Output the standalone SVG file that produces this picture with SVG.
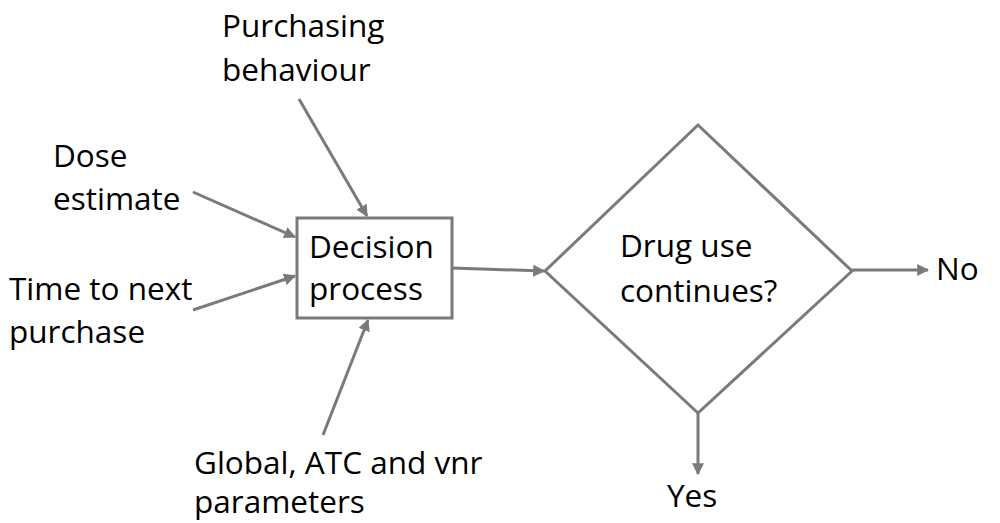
<svg xmlns="http://www.w3.org/2000/svg" width="1000" height="523" viewBox="0 0 1000 523">
<style>
text{font-family:"Open Sans","Liberation Sans",sans-serif;font-size:31.5px;fill:#000}
.ln{stroke:#7a7a7a;stroke-width:3;fill:none}
.sh{stroke:#7a7a7a;stroke-width:3;fill:#fff}
</style>
<defs>
<marker id="ah" viewBox="0 0 10 10" refX="9" refY="5" markerWidth="4" markerHeight="4" orient="auto" markerUnits="strokeWidth">
<path d="M0,0 L10,5 L0,10 z" fill="#7a7a7a"/>
</marker>
</defs>
<rect width="1000" height="523" fill="#fff"/>
<g id="connectors">
<line class="ln" x1="299" y1="99" x2="367" y2="216" marker-end="url(#ah)"/>
<line class="ln" x1="193" y1="192" x2="295" y2="237" marker-end="url(#ah)"/>
<line class="ln" x1="193" y1="310" x2="295" y2="276" marker-end="url(#ah)"/>
<line class="ln" x1="323" y1="435" x2="368" y2="320" marker-end="url(#ah)"/>
<line class="ln" x1="452" y1="268" x2="544" y2="271" marker-end="url(#ah)"/>
<line class="ln" x1="852" y1="270" x2="928" y2="270" marker-end="url(#ah)"/>
<line class="ln" x1="698" y1="413" x2="698" y2="474" marker-end="url(#ah)"/>
</g>
<g id="decision-process">
<rect class="sh" x="297" y="218" width="155" height="100"/>
<text x="309" y="258">Decision</text>
<text x="309" y="300">process</text>
</g>
<g id="drug-use">
<polygon class="sh" points="698,125 852,271 698,413 545,271"/>
<text x="620" y="257">Drug use</text>
<text x="620" y="302">continues?</text>
</g>
<g id="purchasing">
<text x="222" y="37">Purchasing</text>
<text x="222" y="81">behaviour</text>
</g>
<g id="dose">
<text x="53" y="167">Dose</text>
<text x="53" y="210">estimate</text>
</g>
<g id="time">
<text x="9" y="300">Time to next</text>
<text x="9" y="343">purchase</text>
</g>
<g id="global">
<text x="194" y="474">Global, ATC and vnr</text>
<text x="194" y="513">parameters</text>
</g>
<g id="no"><text x="936" y="280">No</text></g>
<g id="yes"><text x="667" y="507">Yes</text></g>
</svg>
